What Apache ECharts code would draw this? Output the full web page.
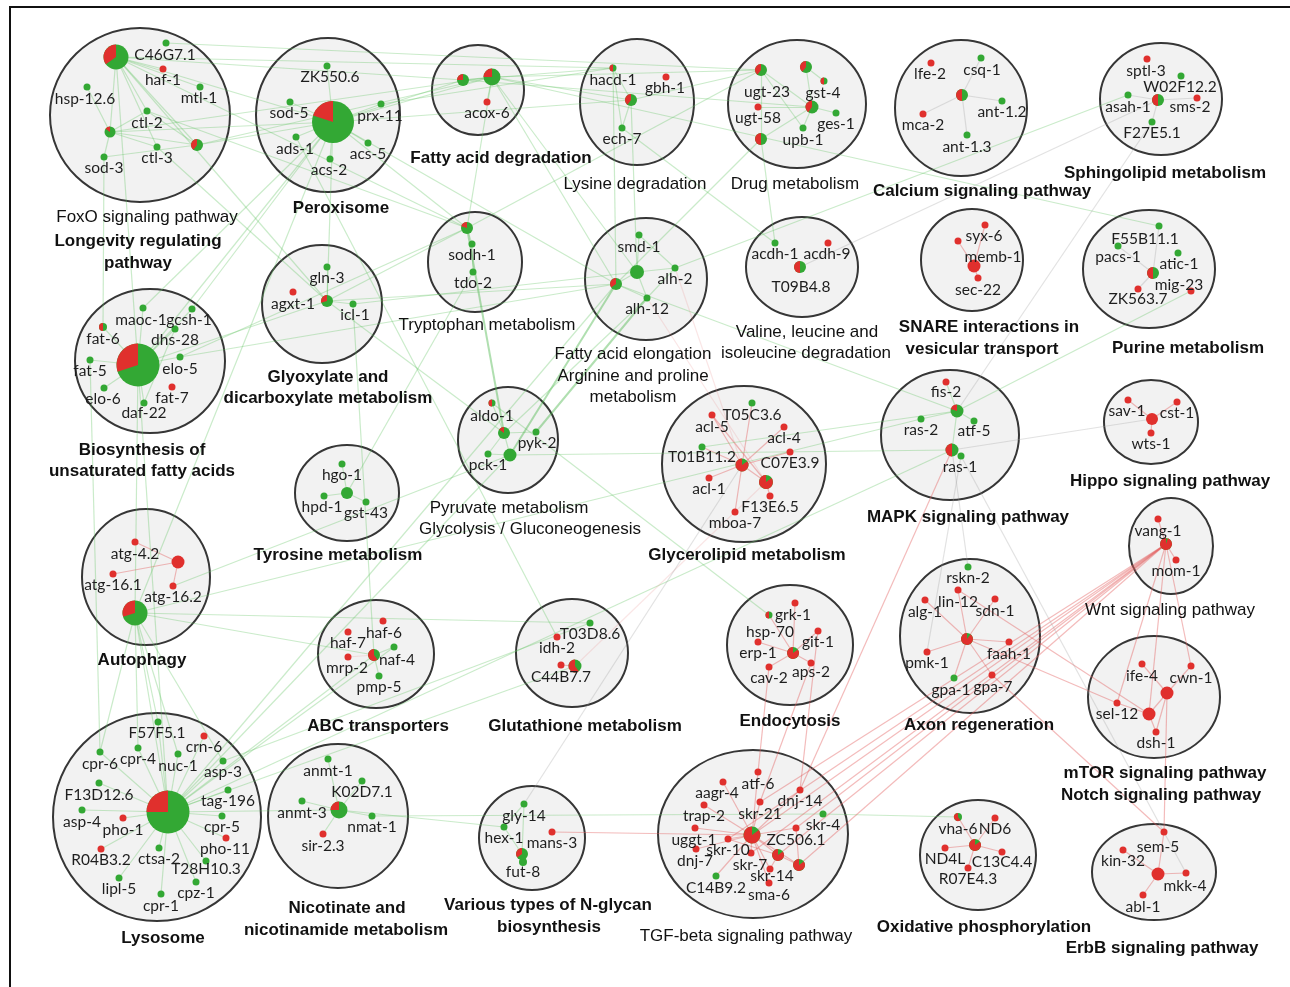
<!DOCTYPE html>
<html>
<head>
<meta charset="utf-8">
<title>Pathway network</title>
<script src="https://cdn.jsdelivr.net/npm/echarts/dist/echarts.min.js"></script>
<style>
  html, body { margin: 0; padding: 0; background: #ffffff; }
  #chart { width: 1290px; height: 987px; }
</style>
</head>
<body>
<div id="chart"></div>
<script>
// Pathway groups drawn as shaded discs: centre x, centre y, radius x, radius y
const clusters = [
  [140, 115, 90, 87],   // FoxO / Longevity
  [328, 115, 72, 77],   // Peroxisome
  [478, 90, 46, 45],    // Fatty acid degradation
  [637, 102, 57, 63],   // Lysine degradation
  [797, 104, 69, 64],   // Drug metabolism
  [961, 108, 66, 68],   // Calcium signaling
  [1161, 99, 61, 56],   // Sphingolipid
  [972, 260, 51, 51],   // SNARE
  [1149, 269, 66, 59],  // Purine
  [150, 361, 75, 72],   // Biosynthesis of unsaturated fatty acids
  [322, 304, 60, 59],   // Glyoxylate
  [475, 262, 47, 50],   // Tryptophan
  [646, 279, 61, 61],   // Fatty acid elongation
  [802, 267, 56, 50],   // Valine
  [347, 493, 52, 48],   // Tyrosine
  [508, 440, 50, 53],   // Pyruvate
  [744, 464, 82, 78],   // Glycerolipid
  [950, 435, 69, 65],   // MAPK
  [1151, 422, 47, 42],  // Hippo
  [1171, 546, 42, 48],  // Wnt
  [970, 636, 70, 77],   // Axon regeneration
  [1154, 697, 66, 61],  // mTOR / Notch
  [1154, 872, 62, 48],  // ErbB
  [146, 577, 64, 68],   // Autophagy
  [376, 654, 58, 54],   // ABC transporters
  [572, 653, 56, 54],   // Glutathione
  [790, 645, 63, 60],   // Endocytosis
  [157, 817, 104, 104], // Lysosome
  [338, 816, 70, 72],   // Nicotinate
  [532, 838, 53, 52],   // N-glycan
  [753, 834, 95, 84],   // TGF-beta
  [978, 855, 58, 55]    // Oxidative phosphorylation
];

// Gene nodes: id, x, y, diameter, share of the red (down) signal
const nodes = [
  ['fx_hub',116,57,25,0.35],['C46G7.1',166,43,7,0],['haf-1',163,69,7,1],['mtl-1',200,87,7,0],['hsp-12.6',87,87,7,0],['ctl-2',147,111,7,0],['fx_p2',110,132,11,0.15],['ctl-3',157,147,7,0],['fx_p3',197,145,12,0.4],['sod-3',104,157,7,0],
  ['px_hub',333,122,42,0.2],['ZK550.6',327,66,7,0],['sod-5',290,102,7,0],['prx-11',381,104,7,0],['ads-1',296,137,7,0],['acs-5',368,143,7,0],['acs-2',330,159,7,0],
  ['fd_p1',463,80,12,0.25],['fd_p2',492,77,17,0.25],['acox-6',487,102,7,1],
  ['hacd-1',613,68,7,0.5],['gbh-1',666,77,7,1],['ly_p',631,100,12,0.4],['ech-7',622,128,7,0],
  ['dr_p1',761,70,12,0.4],['dr_p2',806,67,12,0.4],['gst-4',824,81,7,0.5],['ugt-58',758,107,7,1],['dr_p3',812,107,13,0.4],['ges-1',836,113,7,0],['upb-1',803,128,7,0],['dr_p4',761,139,12,0.5],
  ['ca_hub',962,95,12,0.5],['lfe-2',931,63,7,1],['csq-1',981,58,7,0],['ant-1.2',1002,101,7,0],['mca-2',923,114,7,1],['ant-1.3',967,135,7,0],
  ['sp_hub',1158,100,12,0.5],['sptl-3',1147,59,7,1],['W02F12.2',1181,76,7,0],['asah-1',1128,95,7,0],['sms-2',1197,98,7,1],['F27E5.1',1152,122,7,0],
  ['sn_hub',974,266,13,1],['syx-6',985,225,7,1],['sn_r',958,241,7,1],['sec-22',978,278,7,1],
  ['pu_hub',1153,273,12,0.5],['F55B11.1',1159,226,7,0],['pacs-1',1118,246,7,0],['atic-1',1178,253,7,0],['mig-23',1191,291,7,1],['ZK563.7',1138,289,7,1],
  ['bs_hub',138,365,43,0.3],['maoc-1',143,308,7,0],['gcsh-1',192,309,7,0],['fat-6',103,327,8,0.5],['dhs-28',175,329,7,0],['fat-5',90,360,7,0],['elo-5',180,357,7,0],['elo-6',104,388,7,0],['fat-7',172,387,7,1],['daf-22',144,403,7,0],
  ['gx_hub',327,301,12,0.3],['gln-3',327,267,7,0],['agxt-1',293,292,7,1],['icl-1',353,304,7,0],
  ['tr_hub',467,228,12,0.2],['sodh-1',472,244,7,0],['tdo-2',473,272,7,0],
  ['smd-1',639,235,7,0],['fe_g',637,272,14,0],['fe_p',616,284,12,0.35],['alh-2',675,268,7,0],['alh-12',647,298,7,0],
  ['acdh-1',775,243,7,0],['acdh-9',828,243,7,1],['va_hub',800,267,12,0.5],
  ['ty_hub',347,493,12,0],['hgo-1',342,464,7,0],['hpd-1',324,496,7,0],['gst-43',366,502,7,0],
  ['aldo-1',492,403,7,0.5],['py_p',504,433,12,0.15],['pyk-2',536,432,7,0],['pck-1',488,454,7,0],['py_g',510,455,13,0],
  ['T05C3.6',752,403,7,0],['acl-5',712,415,7,1],['acl-4',784,427,7,1],['T01B11.2',702,447,7,0],['C07E3.9',790,452,7,1],['gl_hub',742,465,13,0.85],['gl_p',766,482,14,0.85],['acl-1',709,478,7,1],['F13E6.5',770,496,7,1],['mboa-7',735,512,7,1],
  ['fis-2',946,382,7,1],['mk_p1',957,411,13,0.2],['ras-2',921,419,7,0],['atf-5',974,421,7,0],['mk_p2',952,450,13,0.5],['ras-1',961,456,7,0],
  ['hi_hub',1152,419,12,1],['sav-1',1128,400,7,1],['cst-1',1177,402,7,1],['wts-1',1151,433,7,1],
  ['wn_hub',1166,544,12,0.95],['vang-1',1158,519,7,1],['mom-1',1176,560,7,1],
  ['rskn-2',968,567,7,0],['lin-12',958,590,7,1],['alg-1',925,600,7,1],['sdn-1',995,599,7,1],['ax_hub',967,639,12,0.9],['faah-1',1009,642,7,1],['pmk-1',927,652,7,1],['gpa-1',954,678,7,0],['gpa-7',992,675,7,1],
  ['ife-4',1142,664,7,1],['cwn-1',1191,666,7,1],['mt_h1',1167,693,13,1],['sel-12',1117,703,7,1],['mt_h2',1149,714,13,1],['dsh-1',1156,732,7,1],
  ['sem-5',1164,832,7,1],['kin-32',1123,850,7,1],['eb_hub',1158,874,13,1],['mkk-4',1186,873,7,1],['abl-1',1143,895,7,1],
  ['atg-4.2',135,542,7,1],['au_r',178,562,13,1],['atg-16.1',113,574,7,1],['atg-16.2',173,586,7,1],['au_p',135,613,25,0.3],
  ['haf-6',383,621,7,1],['haf-7',348,632,7,1],['naf-4',394,647,7,0],['ab_hub',374,655,12,0.6],['mrp-2',348,657,7,1],['pmp-5',379,676,7,0],
  ['T03D8.6',590,623,7,0],['idh-2',557,637,7,1],['gt_r',561,665,7,1],['gt_p',575,666,13,0.6],
  ['en_r',795,603,7,1],['grk-1',769,615,7,0.5],['git-1',818,631,7,1],['erp-1',758,642,7,1],['en_hub',793,653,12,0.85],['cav-2',769,667,7,1],['aps-2',811,663,7,1],
  ['F57F5.1',158,722,7,0],['crn-6',204,736,7,1],['cpr-6',100,752,7,0],['cpr-4',138,748,7,0],['nuc-1',178,754,7,0],['asp-3',223,761,7,0],['F13D12.6',99,783,7,0],['tag-196',228,790,7,0],['lz_hub',168,812,43,0.25],['asp-4',82,810,7,0],['pho-1',123,818,7,1],['cpr-5',222,816,7,0],['pho-11',226,838,7,1],['R04B3.2',101,849,7,1],['ctsa-2',159,848,7,0],['T28H10.3',206,861,7,0],['lipl-5',119,878,7,0],['cpz-1',196,882,7,0],['cpr-1',161,894,7,0],
  ['anmt-1',328,759,7,0],['K02D7.1',362,781,7,0],['anmt-3',302,801,7,0],['nc_hub',339,810,17,0.25],['nmat-1',372,816,7,0],['sir-2.3',323,834,7,1],
  ['gly-14',524,804,7,0],['hex-1',504,827,7,0],['mans-3',552,832,7,1],['fut-8',523,862,8,0],['ng_p',522,854,12,0.35],
  ['atf-6',758,772,7,1],['aagr-4',723,782,7,1],['dnj-14',800,790,7,1],['trap-2',704,805,7,1],['skr-21',760,802,7,1],['skr-4',823,814,7,0],['tg_hub',752,835,17,0.85],['uggt-1',695,828,7,1],['ZC506.1',796,828,7,1],['skr-10',728,839,7,1],['dnj-7',696,849,7,1],['skr-7',751,853,7,1],['tg_p1',778,855,12,0.85],['tg_p2',799,865,12,0.85],['skr-14',770,869,7,1],['sma-6',769,883,7,1],['C14B9.2',716,876,7,0],
  ['vha-6',958,817,8,0.6],['ND6',995,818,7,1],['ox_hub',975,845,12,0.85],['ND4L',945,848,7,1],['C13C4.4',1002,852,7,1],['R07E4.3',968,868,7,1]
];

// Gene name labels: text, x, y
const geneLabels = [
  ['C46G7.1',165,55],['haf-1',163,80],['mtl-1',199,98],['hsp-12.6',85,99],['ctl-2',147,123],['ctl-3',157,158],['sod-3',104,168],
  ['ZK550.6',330,77],['sod-5',289,113],['prx-11',380,116],['ads-1',295,149],['acs-5',368,154],['acs-2',329,170],
  ['acox-6',487,113],
  ['hacd-1',613,80],['gbh-1',665,88],['ech-7',622,139],
  ['ugt-23',767,92],['gst-4',823,93],['ugt-58',758,118],['ges-1',836,124],['upb-1',803,140],
  ['lfe-2',930,74],['csq-1',982,70],['ant-1.2',1002,112],['mca-2',923,125],['ant-1.3',967,147],
  ['sptl-3',1146,71],['W02F12.2',1180,87],['asah-1',1128,107],['sms-2',1190,107],['F27E5.1',1152,133],
  ['syx-6',984,236],['memb-1',993,257],['sec-22',978,290],
  ['F55B11.1',1145,239],['pacs-1',1118,257],['atic-1',1179,264],['mig-23',1179,285],['ZK563.7',1138,299],
  ['maoc-1',141,320],['gcsh-1',189,320],['fat-6',103,339],['dhs-28',175,340],['fat-5',90,371],['elo-5',180,369],['elo-6',103,399],['fat-7',172,398],['daf-22',144,413],
  ['gln-3',327,278],['agxt-1',293,304],['icl-1',355,315],
  ['sodh-1',472,255],['tdo-2',473,283],
  ['smd-1',639,247],['alh-2',675,279],['alh-12',647,309],
  ['acdh-1',775,254],['acdh-9',827,254],['T09B4.8',801,287],
  ['hgo-1',342,475],['hpd-1',322,507],['gst-43',366,513],
  ['aldo-1',492,416],['pyk-2',537,443],['pck-1',488,465],
  ['T05C3.6',752,415],['acl-5',712,427],['acl-4',784,438],['T01B11.2',702,457],['C07E3.9',790,463],['acl-1',709,489],['F13E6.5',770,507],['mboa-7',735,523],
  ['fis-2',946,392],['ras-2',921,430],['atf-5',974,431],['ras-1',960,467],
  ['sav-1',1127,411],['cst-1',1177,413],['wts-1',1151,444],
  ['vang-1',1158,531],['mom-1',1176,571],
  ['rskn-2',968,578],['lin-12',958,602],['alg-1',925,612],['sdn-1',995,611],['faah-1',1009,654],['pmk-1',927,663],['gpa-1',951,690],['gpa-7',993,687],
  ['ife-4',1142,676],['cwn-1',1191,678],['sel-12',1117,714],['dsh-1',1156,743],
  ['sem-5',1158,847],['kin-32',1123,861],['mkk-4',1185,886],['abl-1',1143,907],
  ['atg-4.2',135,554],['atg-16.1',113,585],['atg-16.2',173,597],
  ['haf-6',384,633],['haf-7',348,643],['mrp-2',347,668],['naf-4',397,660],['pmp-5',379,687],
  ['T03D8.6',590,634],['idh-2',557,648],['C44B7.7',561,677],
  ['grk-1',793,615],['hsp-70',770,632],['git-1',818,642],['erp-1',758,653],['cav-2',769,678],['aps-2',811,672],
  ['F57F5.1',157,733],['crn-6',204,747],['cpr-6',100,764],['cpr-4',138,759],['nuc-1',178,766],['asp-3',223,772],['F13D12.6',99,795],['tag-196',228,801],['asp-4',82,822],['pho-1',123,830],['cpr-5',222,827],['pho-11',225,849],['R04B3.2',101,860],['ctsa-2',159,859],['T28H10.3',206,869],['lipl-5',119,889],['cpz-1',196,893],['cpr-1',161,906],
  ['anmt-1',328,771],['K02D7.1',362,792],['anmt-3',302,813],['nmat-1',372,827],['sir-2.3',323,846],
  ['gly-14',524,816],['hex-1',504,838],['mans-3',552,843],['fut-8',523,872],
  ['atf-6',758,784],['aagr-4',717,793],['dnj-14',800,801],['trap-2',704,816],['skr-21',760,814],['skr-4',823,825],['uggt-1',694,840],['ZC506.1',796,840],['skr-10',728,850],['dnj-7',695,861],['skr-7',750,865],['skr-14',772,876],['sma-6',769,895],['C14B9.2',716,888],
  ['vha-6',958,829],['ND6',995,829],['ND4L',945,859],['C13C4.4',1002,862],['R07E4.3',968,879]
];

// Pathway titles: text, x, y, bold (1) or regular (0)
const pathwayLabels = [
  ['FoxO signaling pathway',147,217,0],['Longevity regulating',138,241,1],['pathway',138,263,1],
  ['Peroxisome',341,208,1],['Fatty acid degradation',501,158,1],['Lysine degradation',635,184,0],
  ['Drug metabolism',795,184,0],['Calcium signaling pathway',982,191,1],['Sphingolipid metabolism',1165,173,1],
  ['Tryptophan metabolism',487,325,0],['Valine, leucine and',807,332,0],['isoleucine degradation',806,353,0],
  ['SNARE interactions in',989,327,1],['vesicular transport',982,349,1],['Purine metabolism',1188,348,1],
  ['Fatty acid elongation',633,354,0],['Arginine and proline',633,376,0],['metabolism',633,397,0],
  ['Glyoxylate and',328,377,1],['dicarboxylate metabolism',328,398,1],
  ['Biosynthesis of',142,450,1],['unsaturated fatty acids',142,471,1],
  ['Pyruvate metabolism',509,508,0],['Glycolysis / Gluconeogenesis',530,529,0],
  ['Hippo signaling pathway',1170,481,1],['MAPK signaling pathway',968,517,1],
  ['Tyrosine metabolism',338,555,1],['Glycerolipid metabolism',747,555,1],
  ['Wnt signaling pathway',1170,610,0],['Autophagy',142,660,1],
  ['ABC transporters',378,726,1],['Glutathione metabolism',585,726,1],['Endocytosis',790,721,1],
  ['Axon regeneration',979,725,1],['mTOR signaling pathway',1165,773,1],['Notch signaling pathway',1161,795,1],
  ['Various types of N-glycan',548,905,1],['biosynthesis',549,927,1],
  ['Nicotinate and',347,908,1],['nicotinamide metabolism',346,930,1],
  ['Oxidative phosphorylation',984,927,1],['TGF-beta signaling pathway',746,936,0],
  ['Lysosome',163,938,1],['ErbB signaling pathway',1162,948,1]
];

// Links between genes: g = shared up-regulated, G = strong up-regulated,
// r = down-regulated, k = mixed, f = faint red
function star(hub, members, kind) { return members.map(m => [hub, m, kind]); }
const edges = [
  // inside groups
  ...star('fx_hub',['haf-1','mtl-1','ctl-2','ctl-3','fx_p2','fx_p3'],'g'),
  ...star('fx_p2',['hsp-12.6','ctl-2','ctl-3','sod-3','fx_p3'],'g'),
  ['sod-3','fx_p3','g'],['ctl-2','fx_p3','g'],
  ...star('px_hub',['ZK550.6','sod-5','prx-11','ads-1','acs-5','acs-2'],'g'),
  ['fd_p1','fd_p2','g'],['fd_p2','acox-6','g'],
  ['ly_p','hacd-1','g'],['ly_p','ech-7','g'],['hacd-1','ech-7','g'],
  ['dr_p1','dr_p3','g'],['dr_p2','dr_p3','g'],['dr_p2','gst-4','g'],['dr_p3','ges-1','g'],['dr_p3','upb-1','g'],
  ['dr_p1','dr_p4','g'],['dr_p4','dr_p3','g'],['ugt-58','dr_p3','g'],['dr_p1','upb-1','g'],
  ...star('ca_hub',['mca-2','ant-1.2','ant-1.3','csq-1'],'k'),
  ...star('sp_hub',['F27E5.1','asah-1','sms-2'],'k'),
  ...star('sn_hub',['syx-6','sn_r','sec-22'],'r'),
  ...star('pu_hub',['F55B11.1','pacs-1','ZK563.7'],'k'),
  ...star('bs_hub',['maoc-1','gcsh-1','fat-6','dhs-28','fat-5','elo-5','elo-6','daf-22'],'g'),
  ['dhs-28','daf-22','g'],
  ['gx_hub','gln-3','g'],['gx_hub','icl-1','g'],
  ['tr_hub','sodh-1','g'],['sodh-1','tdo-2','g'],
  ['fe_g','smd-1','g'],['fe_g','alh-2','g'],['fe_g','alh-12','g'],['fe_p','alh-12','g'],['alh-2','alh-12','g'],['smd-1','alh-2','g'],['fe_p','fe_g','g'],
  ...star('ty_hub',['hgo-1','hpd-1','gst-43'],'g'),
  ['py_p','aldo-1','g'],['py_p','pyk-2','g'],['py_p','py_g','g'],['py_g','pck-1','g'],['pck-1','py_p','g'],
  ...star('gl_hub',['acl-5','acl-4','T01B11.2','acl-1','mboa-7','gl_p','C07E3.9','T05C3.6'],'r'),
  ['gl_p','F13E6.5','r'],['acl-5','gl_p','r'],
  ...star('mk_p1',['fis-2','ras-2','atf-5','mk_p2'],'g'),['mk_p2','ras-1','g'],
  ...star('hi_hub',['sav-1','cst-1','wts-1'],'r'),
  ...star('wn_hub',['vang-1','mom-1'],'r'),
  ...star('ax_hub',['lin-12','alg-1','sdn-1','faah-1','pmk-1','gpa-1','gpa-7'],'r'),
  ['mt_h1','cwn-1','r'],['mt_h1','dsh-1','r'],['mt_h1','ife-4','r'],['mt_h2','sel-12','r'],['mt_h2','dsh-1','r'],['mt_h1','mt_h2','r'],
  ...star('eb_hub',['sem-5','kin-32','mkk-4','abl-1'],'r'),
  ...star('au_r',['atg-4.2','atg-16.1','atg-16.2'],'r'),
  ['ab_hub','mrp-2','f'],['ab_hub','naf-4','g'],['ab_hub','pmp-5','g'],
  ['gt_p','gt_r','r'],
  ...star('en_hub',['en_r','grk-1','git-1','erp-1','cav-2','aps-2'],'r'),
  ...star('lz_hub',['F57F5.1','crn-6','cpr-6','cpr-4','nuc-1','asp-3','F13D12.6','tag-196','asp-4','pho-1','cpr-5','pho-11','R04B3.2','ctsa-2','T28H10.3','lipl-5','cpz-1','cpr-1'],'g'),
  ...star('nc_hub',['anmt-1','K02D7.1','anmt-3','nmat-1','sir-2.3'],'g'),
  ['ng_p','gly-14','g'],['ng_p','hex-1','g'],['gly-14','hex-1','g'],
  ...star('tg_hub',['atf-6','aagr-4','trap-2','skr-21','uggt-1','ZC506.1','skr-10','dnj-7','skr-7','tg_p1','tg_p2','skr-14','sma-6','dnj-14'],'r'),
  ['tg_hub','C14B9.2','r'],['tg_p1','skr-14','r'],['tg_p1','tg_p2','r'],['skr-10','tg_p1','r'],['ZC506.1','tg_p2','r'],
  ...star('ox_hub',['vha-6','ND6','ND4L','C13C4.4','R07E4.3'],'r'),
  // between groups, up-regulated
  ['fx_hub','fd_p1','g'],['fx_hub','hacd-1','g'],['C46G7.1','dr_p1','g'],['fx_hub','gx_hub','g'],['fx_hub','tr_hub','g'],
  ['fx_hub','px_hub','g'],['fx_p2','px_hub','g'],['fx_p3','px_hub','g'],['fx_p2','fd_p2','g'],['fx_p3','fd_p2','g'],
  ['fx_hub','bs_hub','g'],['sod-3','fat-6','g'],['ctl-2','tr_hub','g'],['ctl-3','gx_hub','g'],
  ['px_hub','fd_p1','g'],['px_hub','fd_p2','g'],['px_hub','ly_p','g'],['px_hub','bs_hub','g'],['px_hub','gx_hub','g'],
  ['px_hub','au_p','g'],['px_hub','fe_p','g'],['px_hub','tr_hub','g'],['prx-11','hacd-1','g'],
  ['fd_p2','ly_p','g'],['fd_p2','dr_p1','g'],['fd_p2','fe_p','g'],['fd_p2','tr_hub','g'],['fd_p2','F55B11.1','g'],
  ['fd_p1','hacd-1','g'],['fd_p2','fe_g','g'],['fd_p1','dr_p3','g'],
  ['hacd-1','fe_p','g'],['ly_p','dr_p1','g'],['ly_p','fe_g','g'],['dr_p4','fe_p','g'],['dr_p1','tr_hub','g'],['ech-7','acdh-1','g'],
  ['bs_hub','gx_hub','g'],['gcsh-1','px_hub','g'],['maoc-1','px_hub','g'],['elo-5','tr_hub','g'],['elo-5','fe_p','g'],
  ['bs_hub','au_p','g'],['fat-5','cpr-6','g'],['bs_hub','lz_hub','g'],
  ['gx_hub','fe_p','g'],['gx_hub','tr_hub','g'],['gx_hub','py_p','g'],['icl-1','fe_g','g'],['icl-1','ab_hub','g'],
  ['tr_hub','py_p','G'],['ty_hub','tdo-2','g'],
  ['py_g','fe_p','G'],['pyk-2','alh-12','G'],['py_p','alh-12','g'],['aldo-1','grk-1','g'],['ads-1','idh-2','g'],
  ['lz_hub','au_p','g'],['au_p','cpr-6','g'],['au_p','cpr-4','g'],['au_p','nuc-1','g'],['au_p','asp-3','g'],['au_p','F57F5.1','g'],
  ['lz_hub','ab_hub','g'],['lz_hub','naf-4','g'],['lz_hub','gt_p','g'],['lz_hub','py_g','g'],['lz_hub','fe_p','g'],
  ['lz_hub','mk_p2','g'],['lz_hub','nc_hub','g'],['asp-3','T03D8.6','g'],
  ['nc_hub','hex-1','g'],['nmat-1','skr-4','g'],['skr-4','vha-6','g'],
  ['au_p','ab_hub','g'],['au_p','T03D8.6','g'],['atg-16.2','py_g','g'],
  ['mk_p2','py_g','g'],['ras-2','au_p','g'],['mk_p1','fe_p','g'],['T01B11.2','mk_p1','g'],
  ['asah-1','alh-2','g'],['mig-23','mk_p1','g'],['acdh-1','dr_p4','g'],
  // between groups, down-regulated
  ['mans-3','tg_hub','r'],
  ...star('wn_hub',['skr-21','ZC506.1','tg_p1','tg_p2','skr-10','tg_hub','skr-7'],'r'),
  ['wn_hub','sel-12','r'],['wn_hub','mt_h2','r'],['wn_hub','cwn-1','r'],['mt_h1','sem-5','r'],
  ['ax_hub','sel-12','r'],['lin-12','mt_h2','r'],['gpa-7','sem-5','r'],
  ['mk_p2','dnj-14','r'],['cav-2','atf-6','r'],['aps-2','skr-21','r'],['git-1','dnj-14','r'],
  ['alh-2','gl_hub','f'],['alh-12','gl_p','f'],['gt_p','gl_p','f'],
  // between groups, mixed
  ['ras-1','pmk-1','k'],['mk_p2','rskn-2','k'],['ras-1','mkk-4','k'],['hi_hub','mk_p2','k'],
  ['sp_hub','va_hub','k'],['F27E5.1','mk_p1','k'],['gly-14','gl_hub','k']
];

const GREEN = '#33a834';
const RED = '#e0302d';
const linkStyle = {
  g: { color: 'rgba(100, 195, 100, 0.68)', width: 1.2 },
  G: { color: 'rgba(70, 180, 70, 0.85)', width: 2 },
  r: { color: 'rgba(228, 95, 95, 0.85)', width: 1.2 },
  k: { color: 'rgba(160, 160, 160, 0.6)', width: 1.2 },
  f: { color: 'rgba(235, 145, 145, 0.45)', width: 1.2 }
};

const nodeById = {};
nodes.forEach(n => { nodeById[n[0]] = n; });

const linkData = edges
  .filter(e => nodeById[e[0]] && nodeById[e[1]])
  .map(e => ({
    coords: [[nodeById[e[0]][1], nodeById[e[0]][2]], [nodeById[e[1]][1], nodeById[e[1]][2]]],
    lineStyle: linkStyle[e[2]]
  }));

const chart = echarts.init(document.getElementById('chart'), null, { renderer: 'canvas' });

chart.setOption({
  animation: false,
  backgroundColor: '#ffffff',
  grid: { left: 0, right: 0, top: 0, bottom: 0 },
  xAxis: { type: 'value', min: 0, max: 1290, show: false },
  yAxis: { type: 'value', min: 0, max: 987, inverse: true, show: false },
  graphic: [{
    type: 'rect', z: 100, silent: true,
    shape: { x: 10, y: 7, width: 1400, height: 1100 },
    style: { fill: 'none', stroke: '#111111', lineWidth: 2 }
  }],
  series: [
    {
      // pathway discs
      type: 'custom', z: 1, silent: true,
      data: clusters,
      renderItem: function (params, api) {
        const c = api.coord([api.value(0), api.value(1)]);
        const s = api.size([api.value(2), api.value(3)]);
        return {
          type: 'ellipse',
          shape: { cx: c[0], cy: c[1], rx: s[0], ry: s[1] },
          style: { fill: '#f2f2f2', stroke: '#363636', lineWidth: 2 }
        };
      }
    },
    {
      // gene-to-gene links
      type: 'lines', coordinateSystem: 'cartesian2d', z: 2, silent: true,
      polyline: false,
      data: linkData
    },
    {
      // gene nodes, split into up (green) and down (red) share
      type: 'custom', z: 3, silent: true,
      data: nodes.map(n => [n[1], n[2], n[3], n[4]]),
      renderItem: function (params, api) {
        const c = api.coord([api.value(0), api.value(1)]);
        const r = api.value(2) / 2;
        const red = api.value(3);
        const children = [];
        if (red >= 1) {
          children.push({ type: 'circle', shape: { cx: c[0], cy: c[1], r: r }, style: { fill: RED } });
        } else {
          children.push({ type: 'circle', shape: { cx: c[0], cy: c[1], r: r }, style: { fill: GREEN } });
          if (red > 0) {
            children.push({
              type: 'sector',
              shape: {
                cx: c[0], cy: c[1], r0: 0, r: r,
                startAngle: -Math.PI / 2 - red * 2 * Math.PI,
                endAngle: -Math.PI / 2,
                clockwise: true
              },
              style: { fill: RED }
            });
          }
        }
        return { type: 'group', children: children };
      }
    },
    {
      // gene names
      type: 'custom', z: 4, silent: true,
      data: geneLabels.map(l => [l[1], l[2]]),
      renderItem: function (params, api) {
        const c = api.coord([api.value(0), api.value(1)]);
        return {
          type: 'text', x: c[0], y: c[1],
          style: {
            text: geneLabels[params.dataIndex][0],
            fontFamily: 'Lato, "Open Sans", sans-serif',
            fontSize: 15.5,
            fill: '#1e1e1e',
            align: 'center',
            verticalAlign: 'middle'
          }
        };
      }
    },
    {
      // pathway titles
      type: 'custom', z: 4, silent: true,
      data: pathwayLabels.map(l => [l[1], l[2]]),
      renderItem: function (params, api) {
        const c = api.coord([api.value(0), api.value(1)]);
        const row = pathwayLabels[params.dataIndex];
        return {
          type: 'text', x: c[0], y: c[1],
          style: {
            text: row[0],
            fontFamily: '"Liberation Sans", Arial, sans-serif',
            fontSize: 17,
            fontWeight: row[3] ? 'bold' : 'normal',
            fill: '#111111',
            align: 'center',
            verticalAlign: 'middle'
          }
        };
      }
    }
  ]
});
</script>
</body>
</html>
